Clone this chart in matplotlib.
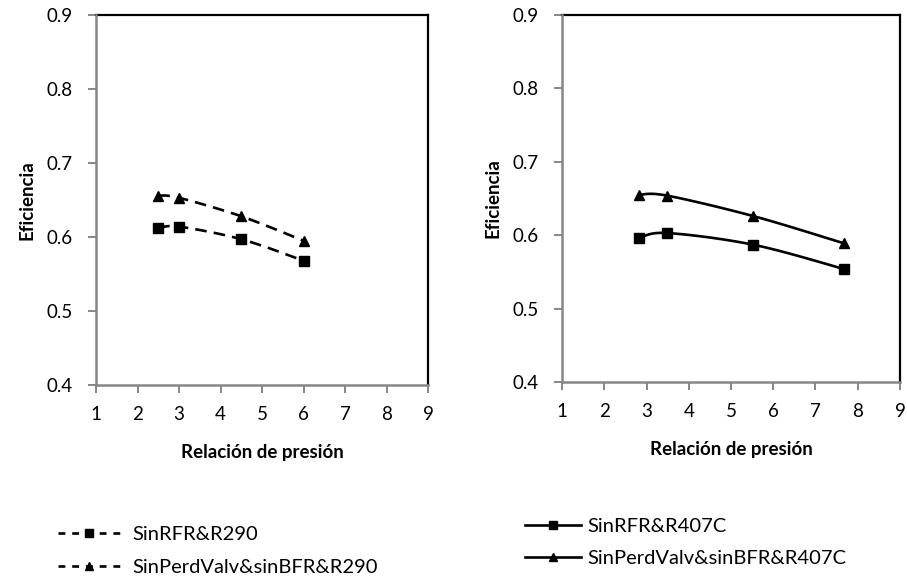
import numpy as np
import matplotlib
matplotlib.use("Agg")
import matplotlib.pyplot as plt
from matplotlib.lines import Line2D

plt.rcParams['font.family'] = ['Lato', 'DejaVu Sans']

# Pressure ratio and efficiency data
x_r290 = [2.5, 3.0, 4.5, 6.0]
ef_sinrfr_r290 = [0.612, 0.614, 0.597, 0.568]
ef_sinperd_r290 = [0.656, 0.653, 0.628, 0.595]

x_r407c = [2.82, 3.48, 5.53, 7.67]
ef_sinrfr_r407c = [0.596, 0.603, 0.587, 0.554]
ef_sinperd_r407c = [0.655, 0.654, 0.626, 0.589]

labels_left = ["SinRFR&R290", "SinPerdValv&sinBFR&R290"]
labels_right = ["SinRFR&R407C", "SinPerdValv&sinBFR&R407C"]

xticks = [1, 2, 3, 4, 5, 6, 7, 8, 9]
yticks = [0.4, 0.5, 0.6, 0.7, 0.8, 0.9]

W, H = 907, 578
fig = plt.figure(figsize=(W / 100, H / 100), dpi=100)
fig.patch.set_facecolor('white')

GRAY = '#868686'


def smooth(xs, ys, n=30):
    """Spreadsheet-style smoothed line (Catmull-Rom as cubic Bezier)."""
    p = np.column_stack([xs, ys]).astype(float)
    pts = [p[0]] + list(p) + [p[-1]]
    out = []
    t = np.linspace(0, 1, n)[:, None]
    for i in range(1, len(pts) - 2):
        p0, p1, p2, p3 = pts[i - 1], pts[i], pts[i + 1], pts[i + 2]
        c1 = p1 + (p2 - p0) / 6.0
        c2 = p2 - (p3 - p1) / 6.0
        seg = ((1 - t) ** 3) * p1 + 3 * ((1 - t) ** 2) * t * c1 + 3 * (1 - t) * t ** 2 * c2 + t ** 3 * p2
        out.append(seg if i == 1 else seg[1:])
    out = np.vstack(out)
    return out[:, 0], out[:, 1]


def px_axes(l, r, t, b):
    return fig.add_axes([l / W, 1 - b / H, (r - l) / W, (b - t) / H])


def style(ax):
    ax.set_xlim(1, 9)
    ax.set_ylim(0.4, 0.9)
    ax.set_xticks(xticks)
    ax.set_yticks(yticks)
    ax.set_xticklabels([str(v) for v in xticks])
    ax.set_yticklabels([f"{v:.1f}" for v in yticks])
    for s in ['top', 'right']:
        ax.spines[s].set_color('black')
        ax.spines[s].set_linewidth(1.6)
    for s in ['left', 'bottom']:
        ax.spines[s].set_color(GRAY)
        ax.spines[s].set_linewidth(1.8)
        ax.spines[s].set_zorder(5)
    ax.tick_params(direction='out', length=6, width=1.4, color=GRAY,
                   labelsize=13.5, labelcolor='black')
    ax.tick_params(axis='x', pad=9)
    ax.tick_params(axis='y', pad=11)
    ax.set_xlabel("Relación de presión", fontsize=13.5, fontweight='bold', labelpad=15)
    ax.set_ylabel("Eficiencia", fontsize=13.5, fontweight='bold', labelpad=8)


dash = (4.4, 2.7)
lw = 1.9
ms = 6.5

ax1 = px_axes(96, 428, 15, 385)
style(ax1)
for ys, mk in [(ef_sinrfr_r290, 's'), (ef_sinperd_r290, '^')]:
    sx, sy = smooth(x_r290, ys)
    ax1.plot(sx, sy, color='black', lw=lw, dashes=dash, clip_on=False)
    ax1.plot(x_r290, ys, linestyle='none', marker=mk, color='black', ms=ms, clip_on=False)

ax2 = px_axes(562, 900, 15, 382)
style(ax2)
for ys, mk in [(ef_sinrfr_r407c, 's'), (ef_sinperd_r407c, '^')]:
    sx, sy = smooth(x_r407c, ys)
    ax2.plot(sx, sy, color='black', lw=lw, clip_on=False)
    ax2.plot(x_r407c, ys, linestyle='none', marker=mk, color='black', ms=ms, clip_on=False)

h_left = [Line2D([], [], color='black', lw=lw, dashes=(2.6, 2.6), marker=m, ms=ms * 0.85) for m in ['s', '^']]
h_right = [Line2D([], [], color='black', lw=lw, marker=m, ms=ms * 0.85) for m in ['s', '^']]

fig.legend(h_left, labels_left, loc='upper left', bbox_to_anchor=(58 / W, 1 - 526 / H),
           frameon=False, fontsize=14.5, handlelength=3.1, handletextpad=0.6,
           labelspacing=0.8, borderpad=0, borderaxespad=0, numpoints=1)
fig.legend(h_right, labels_right, loc='upper left', bbox_to_anchor=(525 / W, 1 - 518 / H),
           frameon=False, fontsize=14.5, handlelength=2.8, handletextpad=0.3,
           labelspacing=0.75, borderpad=0, borderaxespad=0, numpoints=1)

fig.savefig("out.png", dpi=100, facecolor='white')
